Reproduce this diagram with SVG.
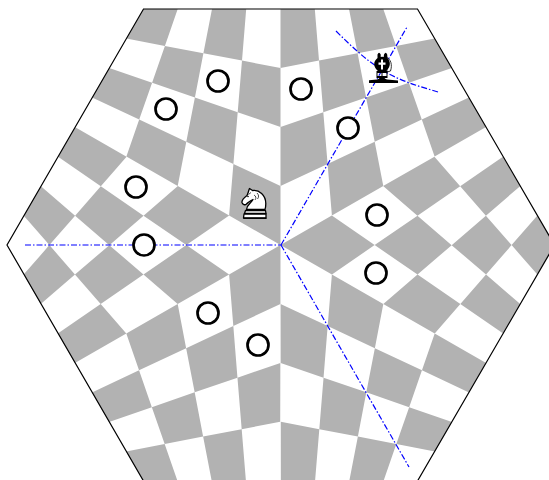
<svg xmlns="http://www.w3.org/2000/svg" width="549" height="480" viewBox="0 0 549 480">
<style>
.g{fill:#b2b2b2;stroke:none}
.hex{fill:none;stroke:#000;stroke-width:1.2}
.ray{fill:none;stroke:#0000ff;stroke-width:1.2;stroke-dasharray:6 2 1.5 2}
.dot{fill:#fff;stroke:#000;stroke-width:2.7}
.ln{fill:#fff;stroke:#000;stroke-width:1.3;stroke-linejoin:round}
.thin{fill:none;stroke:#000;stroke-width:.7}
.blk{fill:#000;stroke:none}
.wht{fill:#fff;stroke:none}
</style>
<defs>
<path id="even" class="g" d="M0,0L-51.4,-29.5L-47.1,-81.1L0,-59ZM-102.8,-59L-154.1,-88.5L-141.3,-125.4L-94.2,-103.3ZM-47.1,-81.1L-94.2,-103.3L-85.6,-147.5L-42.8,-132.8ZM-141.3,-125.4L-188.4,-147.5L-171.3,-177L-128.4,-162.3ZM0,-118L-42.8,-132.8L-38.5,-184.4L0,-177ZM-85.6,-147.5L-128.4,-162.3L-115.6,-199.1L-77.1,-191.8ZM-38.5,-184.4L-77.1,-191.8L-68.5,-236L-34.3,-236ZM-115.6,-199.1L-154.1,-206.5L-137,-236L-102.8,-236Z"/>
<path id="odd" class="g" d="M51.4,-29.5L102.8,-59L94.2,-103.3L47.1,-81.1ZM154.1,-88.5L205.5,-118L188.4,-147.5L141.3,-125.4ZM0,-59L47.1,-81.1L42.8,-132.8L0,-118ZM94.2,-103.3L141.3,-125.4L128.4,-162.3L85.6,-147.5ZM42.8,-132.8L85.6,-147.5L77.1,-191.8L38.5,-184.4ZM128.4,-162.3L171.3,-177L154.1,-206.5L115.6,-199.1ZM0,-177L38.5,-184.4L34.3,-236L0,-236ZM77.1,-191.8L115.6,-199.1L102.8,-236L68.5,-236Z"/>
</defs>
<rect width="549" height="480" fill="#fff"/>
<g id="board" transform="translate(280.5,245)">
<use href="#even"/>
<use href="#odd"/>
<use href="#even" transform="matrix(-.4985,.8601,-.8712,-.5,0,0)"/>
<use href="#odd" transform="matrix(-.4985,.8601,-.8712,-.5,0,0)"/>
<use href="#even" transform="matrix(-.4985,-.8601,.8712,-.5,0,0)"/>
<use href="#odd" transform="matrix(-.4985,-.8601,.8712,-.5,0,0)"/>
</g>
<polygon id="edge" class="hex" points="143.5,9 417.5,9 554.5,245 417.5,481 143.5,481 7,245"/>
<g id="connectors">
<path class="ray" d="M25,245H281"/>
<path class="ray" d="M281,245L407,27"/>
<path class="ray" d="M281,245L409,467"/>
<path class="ray" d="M336,31C352,47 366,60 382,70C400,81 418,86 438,92"/>
</g>
<g id="dots">
<circle class="dot" cx="218" cy="81" r="10.5"/>
<circle class="dot" cx="166" cy="109" r="10.5"/>
<circle class="dot" cx="136" cy="187" r="10.5"/>
<circle class="dot" cx="144" cy="245" r="10.5"/>
<circle class="dot" cx="208" cy="313" r="10.5"/>
<circle class="dot" cx="258" cy="345" r="10.5"/>
<circle class="dot" cx="301" cy="89" r="10.5"/>
<circle class="dot" cx="348" cy="128" r="10.5"/>
<circle class="dot" cx="377" cy="215" r="10.5"/>
<circle class="dot" cx="376" cy="273" r="10.5"/>
</g>
<g id="knight">
<path class="ln" d="M246.5,209.5C247,204.5 251,203.5 253,199.5C250,201 248,202 246.5,204C245,205.5 242.5,204.5 242,202.5C241.5,200 245,197 247,195.5C248,193.5 248.5,191 249.5,188.5L252.5,190.5C259,189.5 265.8,195 265.8,203.5C265.8,206 265.5,208 265,209.5Z"/>
<path class="thin" d="M257,193C259,195 259,197 257.5,199M254,195C256,196 256.5,198 255,200M251,192.5L248.5,194.5"/>
<circle class="blk" cx="248" cy="196.5" r=".8"/>
<path class="ln" d="M245.5,210.5H265.5L266,213.5H244.5Z"/>
<path class="ln" d="M244,214H266V218H243.5Z"/>
<path d="M243.5,218.3H266.5" stroke="#000" stroke-width="1.2"/>
</g>
<g id="bishop">
<path class="ln" style="stroke-width:.8" d="M386,57C391,59 392.5,65 390.5,71L387,72Z"/>
<path class="blk" d="M378.5,71.5C373,67 373,61.5 377.5,58L377.5,54.5Q379,51 380.7,54.5L380.7,57Q382,56.5 383.7,57L384,54.5Q385.8,51 387.2,54.5L387.5,58C391,62 390.8,67 385.8,71.5Z"/>
<path class="wht" d="M381,59.5H383V62.5H385.5V64.7H383V69.5H381V64.7H378.5V62.5H381Z"/>
<path class="blk" d="M376.5,71H387.5V73H376.5ZM376.5,76H387.5V78H376.5ZM376.5,73H377.5V76H376.5ZM381.5,73H382.5V76H381.5ZM386.5,73H387.5V76H386.5Z"/>
<path class="blk" d="M369,83V80.2L377,79.5Q379,79 380,77.5H384Q385,79 387,79.5L398,80.5V83Z"/>
</g>
</svg>
